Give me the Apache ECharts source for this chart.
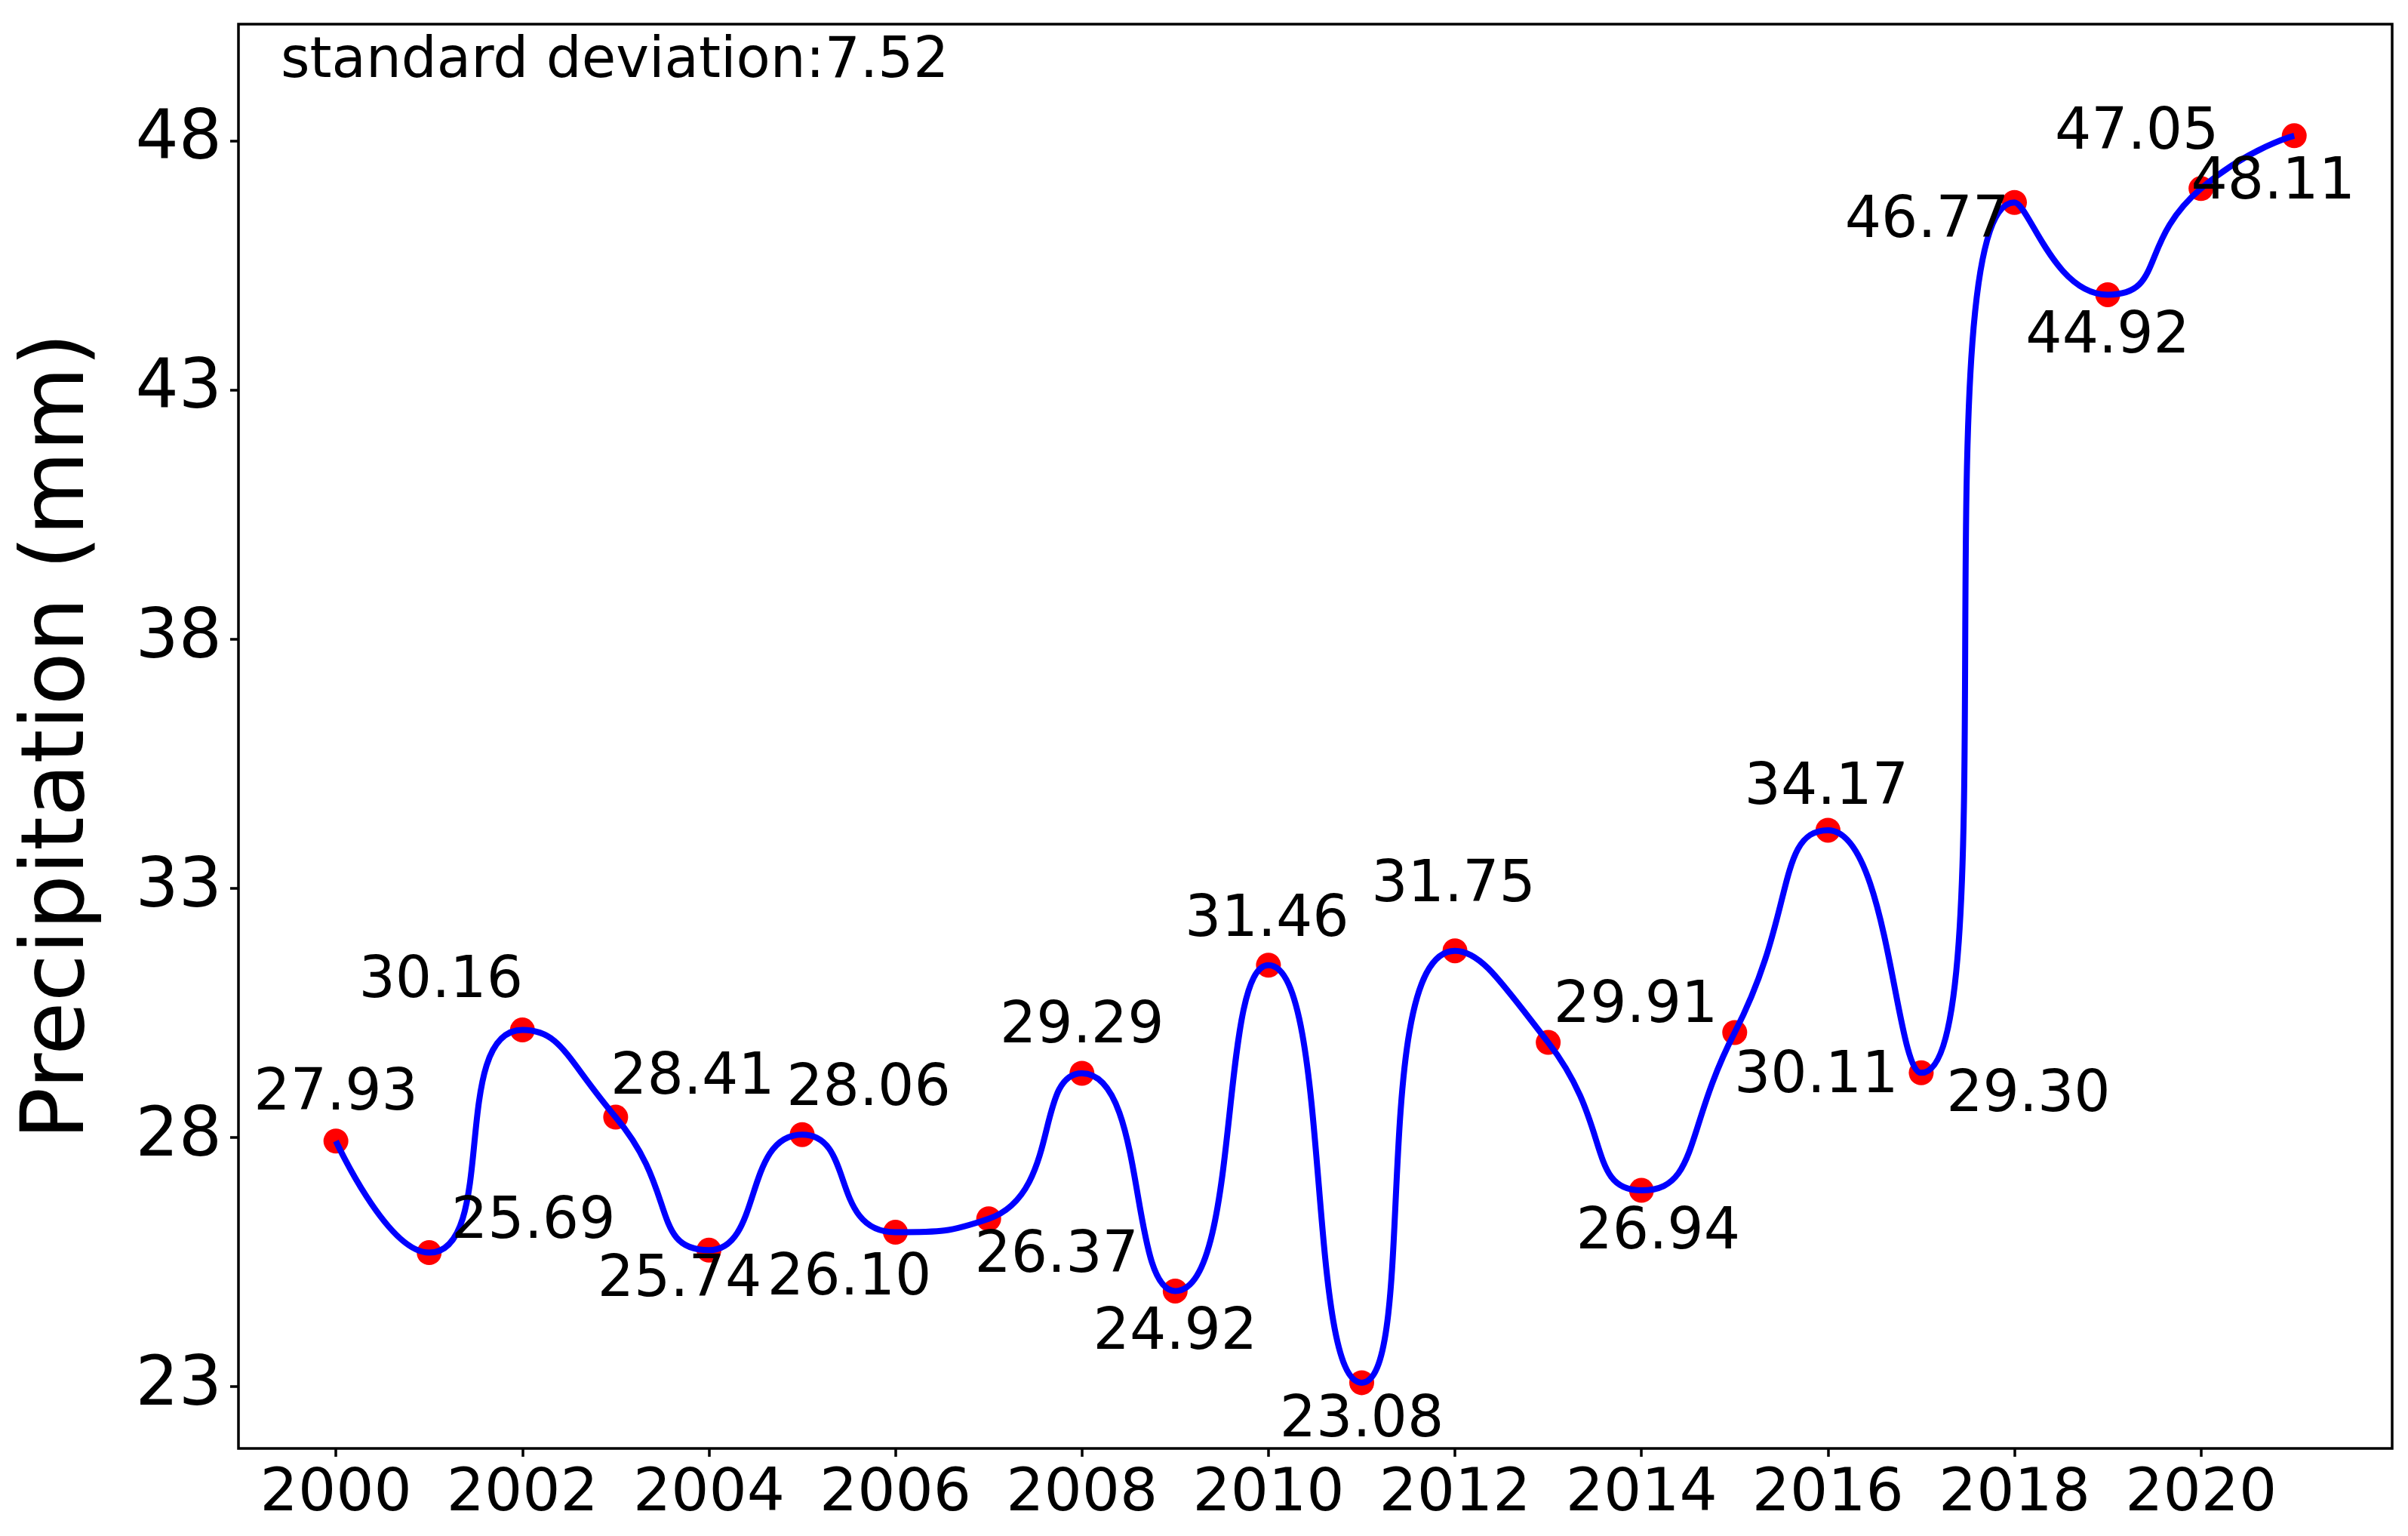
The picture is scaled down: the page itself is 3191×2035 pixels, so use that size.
<!DOCTYPE html>
<html>
<head>
<meta charset="utf-8">
<script src="https://cdn.jsdelivr.net/npm/echarts@6/dist/echarts.min.js"></script>
<style>
html,body{margin:0;padding:0;background:#fff;}
#chart{width:3191px;height:2035px;}
</style>
</head>
<body>
<div id="chart"></div>
<script>
const years = [2000,2001,2002,2003,2004,2005,2006,2007,2008,2009,2010,2011,2012,2013,2014,2015,2016,2017,2018,2019,2020,2021];
const precipitation = [27.93,25.69,30.16,28.41,25.74,28.06,26.10,26.37,29.29,24.92,31.46,23.08,31.75,29.91,26.94,30.11,34.17,29.30,46.77,44.92,47.05,48.11];
const xTicks = [2000,2002,2004,2006,2008,2010,2012,2014,2016,2018,2020];
const yTicks = [23,28,33,38,43,48];
const annotationText = 'standard deviation:7.52';
// label placement (pixel offsets from each marker)
const labelOffsets = [[0,-62],[138,-39],[-108,-63],[102,-51],[-39,41],[88,-59],[-61,63],[90,51],[0,-61],[0,57],[-2,-59],[0,51],[-2,-85],[116,-47],[22,57],[108,59],[-2,-55],[142,31],[-116,26],[0,57],[-85,-73],[-28,63]];

const FONT = 'DejaVu Sans';
const pts = years.map((y,i)=>[y, precipitation[i]]);
const labelPts = years.map((y,i)=>({
  value:[y, precipitation[i]],
  label:{offset: labelOffsets[i]}
}));

const chart = echarts.init(document.getElementById('chart'), null, {renderer:'canvas'});
chart.setOption({
  animation:false,
  backgroundColor:'#ffffff',
  grid:{left:316, right:21, top:32, bottom:116, show:true, borderColor:'#000', borderWidth:3.5, backgroundColor:'transparent'},
  xAxis:{
    type:'value', min:1998.955, max:2022.05,
    axisLine:{show:false},
    splitLine:{show:false},
    axisTick:{show:true, customValues:xTicks, length:11, lineStyle:{color:'#000', width:3.5}},
    axisLabel:{customValues:xTicks, color:'#000', fontFamily:FONT, fontSize:79, margin:22, formatter:v=>String(v)}
  },
  yAxis:{
    type:'value', min:21.76, max:50.35,
    name:'Precipitation (mm)', nameLocation:'middle', nameGap:178,
    nameTextStyle:{fontFamily:FONT, fontSize:115, color:'#000'},
    axisLine:{show:false},
    splitLine:{show:false},
    axisTick:{show:true, customValues:yTicks, length:11, lineStyle:{color:'#000', width:3.5}},
    axisLabel:{customValues:yTicks, color:'#000', fontFamily:FONT, fontSize:90, margin:22, formatter:v=>String(v)}
  },
  graphic:[{
    type:'text', left:372, top:46, z:100,
    style:{text:annotationText, font:'74px "DejaVu Sans"', fill:'#000'}
  }],
  series:[
    {
      type:'scatter', data:pts, symbol:'circle', symbolSize:33,
      itemStyle:{color:'#ff0000', opacity:1}, z:2, silent:true
    },
    {
      type:'line', data:pts, smooth:0.6, showSymbol:false, symbol:'none',
      lineStyle:{color:'#0000ff', width:8}, z:3, silent:true
    },
    {
      type:'scatter', data:labelPts, symbolSize:1, itemStyle:{color:'#ffffff', opacity:0}, z:4, silent:true,
      label:{show:true, position:'inside', color:'#000000', opacity:1, fontFamily:FONT, fontSize:76,
        formatter:p=>p.value[1].toFixed(2)}
    }
  ]
});
</script>
</body>
</html>
